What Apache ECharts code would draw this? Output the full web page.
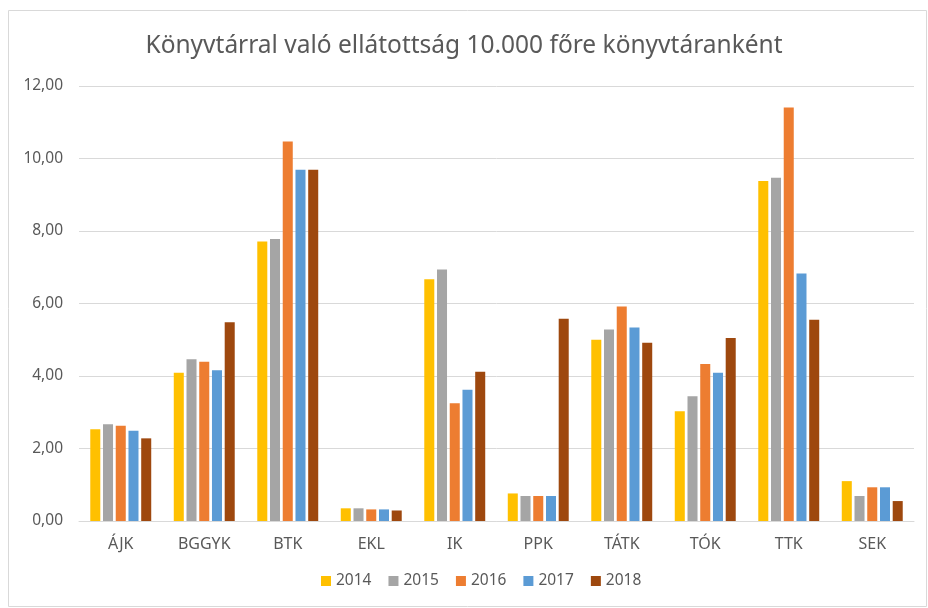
<!DOCTYPE html>
<html>
<head>
<meta charset="utf-8">
<script src="https://cdn.jsdelivr.net/npm/echarts@6/dist/echarts.min.js"></script>
<style>
  html, body { margin: 0; padding: 0; background: #fff; }
  #chart { width: 928px; height: 608px; }
</style>
</head>
<body>
<div id="chart"></div>
<script>
// karok
var categories = ['ÁJK', 'BGGYK', 'BTK', 'EKL', 'IK', 'PPK', 'TÁTK', 'TÓK', 'TTK', 'SEK'];
var years = ['2014', '2015', '2016', '2017', '2018'];

// ellátottság évenként (leolvasva)
var v2014 = [2.53, 4.09, 7.71, 0.35, 6.67, 0.76, 5.00, 3.03, 9.38, 1.10];
var v2015 = [2.67, 4.46, 7.78, 0.35, 6.94, 0.69, 5.28, 3.44, 9.47, 0.69];
var v2016 = [2.63, 4.39, 10.47, 0.32, 3.25, 0.69, 5.92, 4.33, 11.41, 0.93];
var v2017 = [2.49, 4.16, 9.69, 0.32, 3.62, 0.69, 5.34, 4.09, 6.83, 0.93];
var v2018 = [2.28, 5.48, 9.69, 0.29, 4.12, 5.58, 4.92, 5.05, 5.55, 0.55];

var colors = ['#FFC000', '#A5A5A5', '#ED7D31', '#5B9BD5', '#9E480E'];
var values = [v2014, v2015, v2016, v2017, v2018];

var font = '"Noto Sans", sans-serif';
var myChart = echarts.init(document.getElementById('chart'));

var option = {
    color: colors,
    title: {
        text: 'Könyvtárral való ellátottság 10.000 főre könyvtáranként',
        left: 'center',
        top: 29,
        textStyle: {
            fontFamily: font,
            fontSize: 24.5,
            fontWeight: 'normal',
            color: '#595959'
        }
    },
    legend: {
        data: years,
        bottom: 14,
        left: 316,
        itemWidth: 10,
        itemHeight: 10,
        itemGap: 17,
        icon: 'rect',
        textStyle: { fontFamily: font, fontSize: 15.5, color: '#595959' }
    },
    grid: {
        left: 79,
        right: 14,
        top: 86,
        bottom: 87
    },
    xAxis: {
        type: 'category',
        data: categories,
        axisLine: { lineStyle: { color: '#d9d9d9' } },
        axisTick: { show: false },
        axisLabel: { fontFamily: font, fontSize: 16, color: '#595959', margin: 15 }
    },
    yAxis: {
        type: 'value',
        min: 0,
        max: 12,
        interval: 2,
        axisLine: { show: false },
        axisTick: { show: false },
        splitLine: { lineStyle: { color: '#d9d9d9' } },
        axisLabel: {
            fontFamily: font,
            fontSize: 15.5,
            color: '#595959',
            margin: 16,
            formatter: function (v) { return v.toFixed(2).replace('.', ','); }
        }
    },
    graphic: [{
        type: 'rect',
        shape: { x: 8.5, y: 10.5, width: 918, height: 596 },
        style: { fill: 'none', stroke: '#d9d9d9', lineWidth: 1 }
    }],
    series: years.map(function (y, i) {
        return {
            name: y,
            type: 'bar',
            data: values[i],
            barGap: '27%',
            barCategoryGap: '27%'
        };
    })
};

myChart.setOption(option);
</script>
</body>
</html>
